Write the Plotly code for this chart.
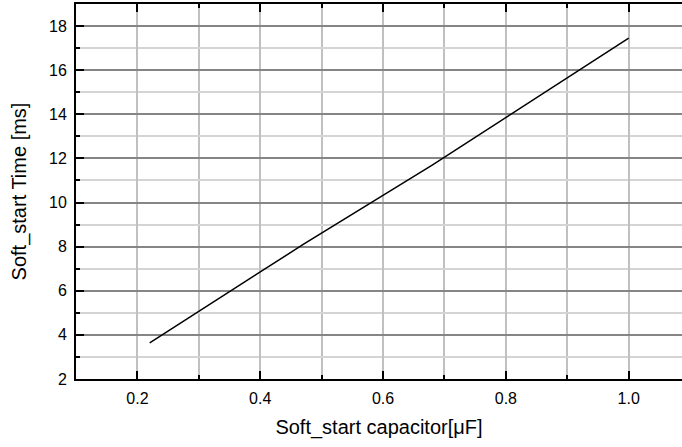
import plotly.graph_objects as go

# Data
capacitance_uF = [0.22, 0.33, 0.47, 0.68, 1.0]
soft_start_ms = [3.64, 5.6, 8.1, 11.7, 17.45]

x_tickvals = [0.2, 0.4, 0.6, 0.8, 1.0]
x_ticktext = ["0.2", "0.4", "0.6", "0.8", "1.0"]
y_tickvals = [2, 4, 6, 8, 10, 12, 14, 16, 18]

FONT = "Liberation Sans, Arial, sans-serif"

fig = go.Figure()
fig.add_trace(go.Scatter(
    x=capacitance_uF, y=soft_start_ms, mode="lines",
    line=dict(color="black", width=1.5), showlegend=False,
))

fig.update_layout(
    width=682, height=447,
    margin=dict(l=76, r=0, t=4, b=68, autoexpand=False),
    paper_bgcolor="white", plot_bgcolor="white",
    font=dict(family=FONT, size=16, color="black"),
)

fig.update_xaxes(
    automargin=False,
    range=[0.1, 1.0868],
    tickvals=x_tickvals, ticktext=x_ticktext,
    ticks="inside", ticklen=8, tickwidth=2, tickcolor="black",
    ticklabelstandoff=4,
    showline=True, linecolor="black", linewidth=2, mirror="ticks",
    showgrid=True, gridcolor="#c0c0c0", gridwidth=1.5,
    minor=dict(dtick=0.1, tick0=0.1, ticks="inside", ticklen=4, tickwidth=2,
               tickcolor="black", showgrid=True, gridcolor="#c0c0c0", gridwidth=1.5),
    zeroline=False,
    title=dict(text="Soft_start capacitor[μF]", font=dict(size=20, family=FONT), standoff=14),
    tickfont=dict(size=16, family=FONT),
)

fig.update_yaxes(
    automargin=False,
    range=[2, 19],
    tickvals=y_tickvals,
    ticks="inside", ticklen=8, tickwidth=2, tickcolor="black",
    ticklabelstandoff=4,
    showline=True, linecolor="black", linewidth=2,
    showgrid=True, gridcolor="#858585", gridwidth=1.8,
    minor=dict(dtick=1, tick0=1, ticks="inside", ticklen=4, tickwidth=2,
               tickcolor="black", showgrid=True, gridcolor="#d4d4d4", gridwidth=1.5),
    zeroline=False,
    title=dict(text="Soft_start Time [ms]", font=dict(size=20, family=FONT), standoff=17),
    tickfont=dict(size=16, family=FONT),
)

fig.write_html("out.html",
               config={"displayModeBar": False},
               post_script="document.body.style.margin='0';document.body.style.overflow='hidden';")
